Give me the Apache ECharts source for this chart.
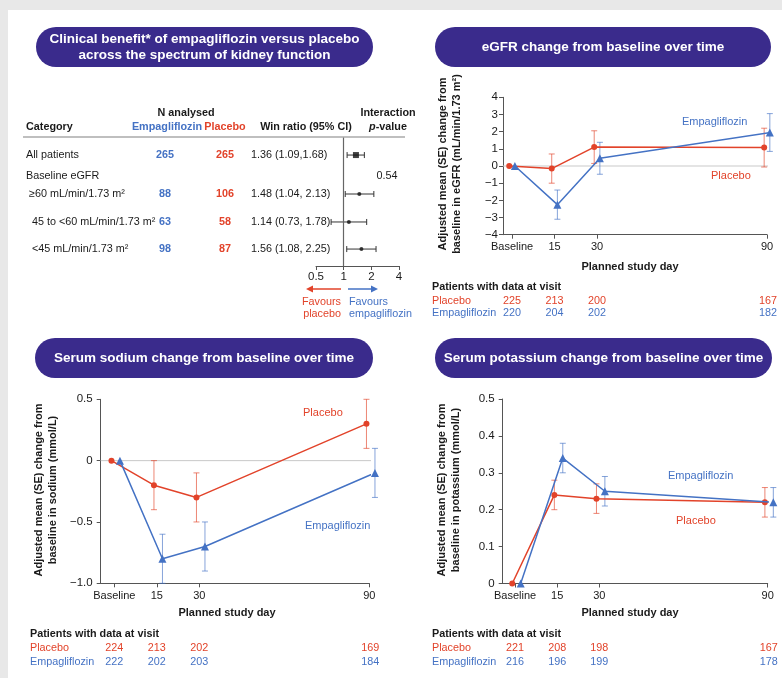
<!DOCTYPE html>
<html><head><meta charset="utf-8">
<script src="https://cdn.jsdelivr.net/npm/echarts@6/dist/echarts.min.js"></script>
<style>
html,body{margin:0;padding:0;background:#e8e8e8;}
#paper{position:absolute;left:8px;top:10px;width:774px;height:668px;background:#fff;}
#c{position:absolute;left:0;top:0;width:782px;height:678px;}
</style>
</head><body><div id="paper"></div><div id="c"></div>
<script>
// ---------------- DATA ----------------
const forestCategories = ['All patients', '\u226560 mL/min/1.73 m\u00b2', '45 to <60 mL/min/1.73 m\u00b2', '<45 mL/min/1.73 m\u00b2'];
const forestWinRatio = [1.36, 1.48, 1.14, 1.56];
const forestCILow = [1.09, 1.04, 0.73, 1.08];
const forestCIHigh = [1.68, 2.13, 1.78, 2.25];
const forestNEmpa = [265, 88, 63, 98];
const forestNPlacebo = [265, 106, 58, 87];
const interactionP = '0.54';

const visitDays = [0, 15, 30, 90];
const visitLabels = ['Baseline', '15', '30', '90'];

const egfrPlacebo = [0, -0.15, 1.1, 1.07];
const egfrPlaceboSE = [0, 0.85, 0.95, 1.13];
const egfrEmpa = [0, -2.25, 0.45, 1.95];
const egfrEmpaSE = [0, 0.85, 0.93, 1.1];
const egfrNPlacebo = [225, 213, 200, 167];
const egfrNEmpa = [220, 204, 202, 182];

const sodiumPlacebo = [0, -0.2, -0.3, 0.3];
const sodiumPlaceboSE = [0, 0.2, 0.2, 0.2];
const sodiumEmpa = [0, -0.8, -0.7, -0.1];
const sodiumEmpaSE = [0, 0.2, 0.2, 0.2];
const sodiumNPlacebo = [224, 213, 202, 169];
const sodiumNEmpa = [222, 202, 203, 184];

const potassiumPlacebo = [0, 0.24, 0.23, 0.22];
const potassiumPlaceboSE = [0, 0.04, 0.04, 0.04];
const potassiumEmpa = [0, 0.34, 0.25, 0.22];
const potassiumEmpaSE = [0, 0.04, 0.04, 0.04];
const potassiumNPlacebo = [221, 208, 198, 167];
const potassiumNEmpa = [216, 196, 199, 178];

// ---------------- STYLE / LAYOUT ----------------
const RED = '#e2432a', BLUE = '#4472c4';
const RED_ERR = 'rgba(226,67,42,0.65)', BLUE_ERR = 'rgba(68,114,196,0.65)';
const PURPLE = '#3a2b8c';
const TXT = '#1a1a1a';
const AXIS = '#555';
const FONT = 'Arial, "Liberation Sans", Helvetica, sans-serif';
const FOREST_ROW_POS = [0.82, 2.59, 3.86, 5.09];
const FOREST_BASELINE_ROW = 1.77;
const FOREST_Y_MAX = 5.86;

const panels = [
  { grid: {left: 503, top: 97.3, width: 264, height: 137.4}, xMin: -3.2, yMin: -4, yMax: 4, yInt: 1,
    dodge: [-1, 1], zero: true, zeroEnd: 92, labelMargin: 5,
    pl: egfrPlacebo, plSE: egfrPlaceboSE, em: egfrEmpa, emSE: egfrEmpaSE, nPl: egfrNPlacebo, nEm: egfrNEmpa,
    fmt: v => String(v).replace('-', '\u2212'),
    yName: 'Adjusted mean (SE) change from\nbaseline in eGFR (mL/min/1.73 m\u00b2)', yNamePos: [450, 164],
    xNamePos: [630, 267], emLab: [682, 122], plLab: [711, 176], table: [432, 287, 301, 313.5] },
  { grid: {left: 100.7, top: 399.3, width: 268.6, height: 184}, xMin: -4.8, yMin: -1, yMax: 0.5, yInt: 0.5,
    dodge: [-1, 2], zero: true, zeroEnd: 93, labelMargin: 8,
    pl: sodiumPlacebo, plSE: sodiumPlaceboSE, em: sodiumEmpa, emSE: sodiumEmpaSE, nPl: sodiumNPlacebo, nEm: sodiumNEmpa,
    fmt: v => v === -1 ? '\u22121.0' : String(v).replace('-', '\u2212'),
    yName: 'Adjusted mean (SE) change from\nbaseline in sodium (mmol/L)', yNamePos: [46, 490],
    xNamePos: [227, 613], plLab: [303, 413], emLab: [305, 526], table: [30, 634, 648.5, 662] },
  { grid: {left: 502.7, top: 399, width: 265, height: 184.5}, xMin: -4.4, yMin: 0, yMax: 0.5, yInt: 0.1,
    dodge: [-1, 2], zero: false, labelMargin: 8,
    pl: potassiumPlacebo, plSE: potassiumPlaceboSE, em: potassiumEmpa, emSE: potassiumEmpaSE, nPl: potassiumNPlacebo, nEm: potassiumNEmpa,
    fmt: v => String(+(+v).toFixed(1)),
    yName: 'Adjusted mean (SE) change from\nbaseline in potassium (mmol/L)', yNamePos: [449, 490],
    xNamePos: [630, 613], emLab: [668, 476], plLab: [676, 521], table: [432, 634, 648.5, 662] }
];

function errRender(color) {
  return function (params, api) {
    const x = api.value(0);
    const a = api.coord([x, api.value(1)]);
    const b = api.coord([x, api.value(2)]);
    const w = 3;
    const st = {stroke: color, lineWidth: 1};
    return {type: 'group', children: [
      {type: 'line', shape: {x1: a[0], y1: a[1], x2: b[0], y2: b[1]}, style: st},
      {type: 'line', shape: {x1: a[0] - w, y1: a[1], x2: a[0] + w, y2: a[1]}, style: st},
      {type: 'line', shape: {x1: b[0] - w, y1: b[1], x2: b[0] + w, y2: b[1]}, style: st}
    ]};
  };
}
function forestRender(params, api) {
  const y = api.value(2);
  const a = api.coord([api.value(0), y]);
  const b = api.coord([api.value(1), y]);
  const st = {stroke: '#333', lineWidth: 1};
  return {type: 'group', children: [
    {type: 'line', shape: {x1: a[0], y1: a[1], x2: b[0], y2: b[1]}, style: st},
    {type: 'line', shape: {x1: a[0], y1: a[1] - 3, x2: a[0], y2: a[1] + 3}, style: st},
    {type: 'line', shape: {x1: b[0], y1: b[1] - 3, x2: b[0], y2: b[1] + 3}, style: st}
  ]};
}

const grids = [{left: 316, top: 137, width: 83, height: 129}];
const xAxes = [{
  type: 'log', logBase: 2, min: 0.5, max: 4, gridIndex: 0, position: 'bottom',
  axisLine: {onZero: false, lineStyle: {color: AXIS, width: 1}},
  axisTick: {length: 4, lineStyle: {color: AXIS}},
  axisLabel: {color: TXT, fontSize: 11.5, fontFamily: FONT, margin: 5},
  splitLine: {show: false}, minorTick: {show: false}
}];
const yAxes = [{type: 'value', gridIndex: 0, min: 0, max: FOREST_Y_MAX, inverse: true, show: false}];
const series = [
  {type: 'custom', xAxisIndex: 0, yAxisIndex: 0, renderItem: forestRender, silent: true, animation: false,
   data: forestWinRatio.map((w, i) => [forestCILow[i], forestCIHigh[i], FOREST_ROW_POS[i]]),
   encode: {x: [0, 1], y: 2}},
  {type: 'scatter', xAxisIndex: 0, yAxisIndex: 0, silent: true, animation: false,
   data: forestWinRatio.map((w, i) => ({value: [w, FOREST_ROW_POS[i]], symbol: i === 0 ? 'rect' : 'circle', symbolSize: i === 0 ? 6 : 4})),
   itemStyle: {color: '#111'},
   markLine: {silent: true, symbol: 'none', label: {show: false}, animation: false,
     lineStyle: {color: '#666', width: 1.2, type: 'solid'}, data: [{xAxis: 1}]}}
];

panels.forEach((p, k) => {
  const gi = k + 1;
  grids.push(Object.assign({}, p.grid));
  xAxes.push({
    type: 'value', gridIndex: gi, min: p.xMin, max: 90, position: 'bottom',
    axisLine: {onZero: false, lineStyle: {color: AXIS, width: 1}},
    axisTick: {length: 4, lineStyle: {color: AXIS}, customValues: visitDays},
    axisLabel: {color: TXT, fontSize: 11, fontFamily: FONT, margin: 7, customValues: visitDays,
      formatter: v => visitLabels[visitDays.indexOf(v)]},
    splitLine: {show: false}
  });
  yAxes.push({
    type: 'value', gridIndex: gi, min: p.yMin, max: p.yMax, interval: p.yInt,
    axisLine: {show: true, onZero: false, lineStyle: {color: AXIS, width: 1}},
    axisTick: {show: true, length: 4, lineStyle: {color: AXIS}},
    axisLabel: {color: TXT, fontSize: 11.5, fontFamily: FONT, margin: p.labelMargin, formatter: p.fmt},
    splitLine: {show: false}
  });
  if (p.zero) {
    // zero reference line
    series.push({type: 'line', xAxisIndex: gi, yAxisIndex: gi, silent: true, animation: false, clip: false, z: 0,
      data: [[p.xMin, 0], [p.zeroEnd, 0]], symbol: 'none', lineStyle: {color: '#c9c9c9', width: 1}});
  }
  const mk = (vals, se, off) => visitDays.map((d, i) => [d + off, vals[i] - se[i], vals[i] + se[i]]).filter((r, i) => se[i] > 0);
  series.push({type: 'custom', xAxisIndex: gi, yAxisIndex: gi, renderItem: errRender(RED_ERR), silent: true, animation: false,
    clip: false, data: mk(p.pl, p.plSE, p.dodge[0]), encode: {x: 0, y: [1, 2]}, z: 1});
  series.push({type: 'custom', xAxisIndex: gi, yAxisIndex: gi, renderItem: errRender(BLUE_ERR), silent: true, animation: false,
    clip: false, data: mk(p.em, p.emSE, p.dodge[1]), encode: {x: 0, y: [1, 2]}, z: 1});
  series.push({type: 'line', xAxisIndex: gi, yAxisIndex: gi, silent: true, animation: false, clip: false, z: 3,
    data: visitDays.map((d, i) => [d + p.dodge[0], p.pl[i]]),
    symbol: 'circle', symbolSize: 6, itemStyle: {color: RED}, lineStyle: {color: RED, width: 1.5}});
  series.push({type: 'line', xAxisIndex: gi, yAxisIndex: gi, silent: true, animation: false, clip: false, z: 4,
    data: visitDays.map((d, i) => [d + p.dodge[1], p.em[i]]),
    symbol: 'triangle', symbolSize: 8, itemStyle: {color: BLUE}, lineStyle: {color: BLUE, width: 1.5}});
});

const chart = echarts.init(document.getElementById('c'), null, {renderer: 'canvas'});
grids.forEach(g => { g.outerBoundsMode = 'none'; g.containLabel = false; });
chart.setOption({backgroundColor: 'transparent', animation: false, grid: grids, xAxis: xAxes, yAxis: yAxes, series: series});

// ---------------- TEXT / DECORATION ----------------
function txt(x, y, text, o) {
  o = o || {};
  const style = {text: text, fill: o.color || TXT, fontSize: o.size || 11, fontWeight: o.bold ? 'bold' : 'normal',
    fontStyle: o.italic ? 'italic' : 'normal', fontFamily: FONT,
    align: o.align || 'left', verticalAlign: 'middle', textAlign: o.align || 'left', textVerticalAlign: 'middle'};
  if (o.lh) style.lineHeight = o.lh;
  if (o.rich) style.rich = o.rich;
  return {type: 'text', x: x, y: y, rotation: o.rot || 0, silent: true, z: 100, style: style};
}
const g = [];
function pill(x, y, w, h, text) {
  g.push({type: 'rect', shape: {x: x, y: y, width: w, height: h, r: h / 2}, style: {fill: PURPLE}, silent: true, z: 90});
  g.push(txt(x + w / 2, y + h / 2 + 0.5, text, {color: '#fff', bold: true, size: 13.5, align: 'center', lh: 16}));
}
pill(36, 27, 337, 40, 'Clinical benefit* of empagliflozin versus placebo\nacross the spectrum of kidney function');
pill(435, 27, 336, 40, 'eGFR change from baseline over time');
pill(35, 338, 338, 40, 'Serum sodium change from baseline over time');
pill(435, 338, 337, 40, 'Serum potassium change from baseline over time');

// forest table
const fy = pos => chart.convertToPixel({yAxisIndex: 0}, pos);
const FS = 10.8;
g.push(txt(186, 113, 'N analysed', {bold: true, size: FS, align: 'center'}));
g.push(txt(388, 113, 'Interaction', {bold: true, size: FS, align: 'center'}));
g.push(txt(26, 127, 'Category', {bold: true, size: FS}));
g.push(txt(167, 127, 'Empagliflozin', {bold: true, size: FS, align: 'center', color: BLUE}));
g.push(txt(225, 127, 'Placebo', {bold: true, size: FS, align: 'center', color: RED}));
g.push(txt(306, 127, 'Win ratio (95% CI)', {bold: true, size: FS, align: 'center'}));
g.push(txt(388, 127, '{i|p}-value', {bold: true, size: FS, align: 'center',
  rich: {i: {fontStyle: 'italic', fontWeight: 'bold', fontSize: FS, fontFamily: FONT, fill: TXT}}}));
g.push({type: 'line', shape: {x1: 23, y1: 137, x2: 405, y2: 137}, style: {stroke: '#aaa', lineWidth: 1.5}, silent: true, z: 50});
const indent = [26, 29, 32, 32];
forestCategories.forEach((c, i) => {
  const y = fy(FOREST_ROW_POS[i]);
  g.push(txt(indent[i], y, c, {size: FS}));
  g.push(txt(165, y, String(forestNEmpa[i]), {size: FS, bold: true, color: BLUE, align: 'center'}));
  g.push(txt(225, y, String(forestNPlacebo[i]), {size: FS, bold: true, color: RED, align: 'center'}));
  const t = forestWinRatio[i].toFixed(2) + ' (' + forestCILow[i].toFixed(2) + (i === 0 ? ',' : ', ') + forestCIHigh[i].toFixed(2) + ')';
  g.push(txt(251, y, t, {size: FS}));
});
const by = fy(FOREST_BASELINE_ROW);
g.push(txt(26, by, 'Baseline eGFR', {size: FS}));
g.push(txt(387, by, interactionP, {size: FS, align: 'center'}));
// favours arrows
g.push({type: 'line', shape: {x1: 341, y1: 289, x2: 311, y2: 289}, style: {stroke: RED, lineWidth: 1.5}, silent: true, z: 50});
g.push({type: 'polygon', shape: {points: [[306, 289], [313, 285.5], [313, 292.5]]}, style: {fill: RED}, silent: true, z: 50});
g.push({type: 'line', shape: {x1: 348, y1: 289, x2: 373, y2: 289}, style: {stroke: BLUE, lineWidth: 1.5}, silent: true, z: 50});
g.push({type: 'polygon', shape: {points: [[378, 289], [371, 285.5], [371, 292.5]]}, style: {fill: BLUE}, silent: true, z: 50});
g.push(txt(341, 302, 'Favours', {size: FS, color: RED, align: 'right'}));
g.push(txt(341, 314, 'placebo', {size: FS, color: RED, align: 'right'}));
g.push(txt(349, 302, 'Favours', {size: FS, color: BLUE}));
g.push(txt(349, 314, 'empagliflozin', {size: FS, color: BLUE}));

// panels text
panels.forEach((p, k) => {
  const gi = k + 1;
  g.push(txt(p.yNamePos[0], p.yNamePos[1], p.yName, {bold: true, size: 11, align: 'center', lh: 14, rot: Math.PI / 2}));
  g.push(txt(p.xNamePos[0], p.xNamePos[1], 'Planned study day', {bold: true, size: 11, align: 'center'}));
  g.push(txt(p.emLab[0], p.emLab[1], 'Empagliflozin', {size: 11, color: BLUE}));
  g.push(txt(p.plLab[0], p.plLab[1], 'Placebo', {size: 11, color: RED}));
  const t = p.table;
  g.push(txt(t[0], t[1], 'Patients with data at visit', {bold: true, size: FS}));
  g.push(txt(t[0], t[2], 'Placebo', {size: FS, color: RED}));
  g.push(txt(t[0], t[3], 'Empagliflozin', {size: FS, color: BLUE}));
  visitDays.forEach((d, i) => {
    const x = chart.convertToPixel({xAxisIndex: gi}, d);
    const last = i === visitDays.length - 1;
    const px = last ? x + 10 : x;
    const al = last ? 'right' : 'center';
    g.push(txt(px, t[2], String(p.nPl[i]), {size: FS, color: RED, align: al}));
    g.push(txt(px, t[3], String(p.nEm[i]), {size: FS, color: BLUE, align: al}));
  });
});
chart.setOption({graphic: {elements: g}});
</script>
</body></html>
